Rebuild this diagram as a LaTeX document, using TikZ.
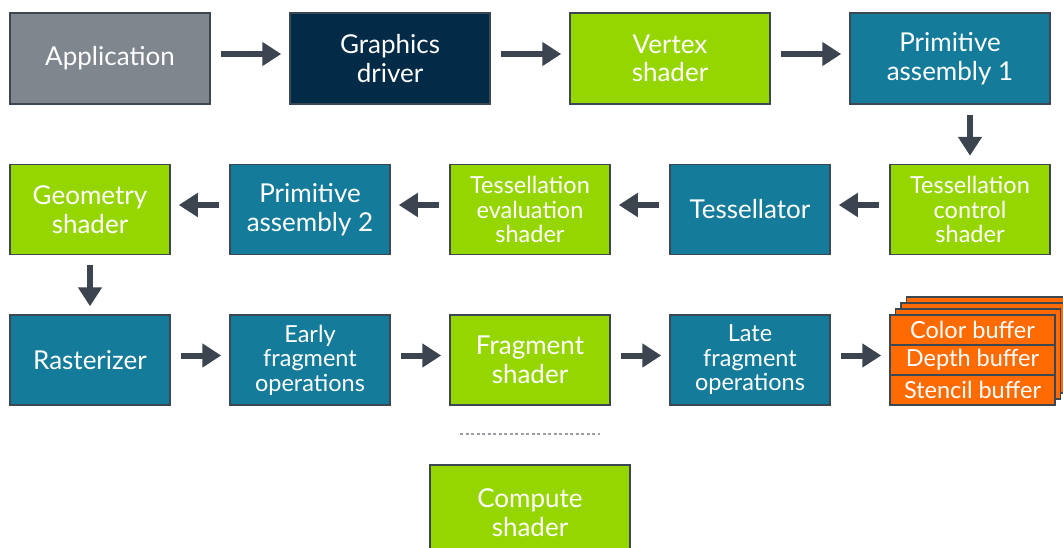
\documentclass[tikz,border=0pt]{standalone}
\usepackage{fontspec}
\setmainfont{Lato}
\usetikzlibrary{arrows.meta}
\definecolor{cgray}{HTML}{7F868E}
\definecolor{cnavy}{HTML}{022B47}
\definecolor{cgreen}{HTML}{95D600}
\definecolor{cteal}{HTML}{147B9A}
\definecolor{corange}{HTML}{FF6B00}
\definecolor{cborder}{HTML}{3D4752}
\definecolor{carrow}{HTML}{3B444F}
\definecolor{cdash}{HTML}{9A9FA5}
\tikzset{
  box/.style={draw=cborder, line width=1.5pt, text=white, align=center, inner sep=0pt,
    font=\fontsize{26}{28.5}\selectfont},
  wide/.style={box, minimum width=200pt, minimum height=91pt},
  narrow/.style={box, minimum width=160pt, minimum height=90pt},
  small/.style={font=\fontsize{23.5}{24.5}\selectfont},
  buf/.style={box, fill=corange, minimum width=165pt, minimum height=30pt, font=\fontsize{23.5}{24}\selectfont},
  arr/.style={draw=carrow, line width=6pt, -{Triangle[length=19pt,width=23pt]}, shorten <=10pt, shorten >=8pt},
  up/.style={yshift=4.5pt},
}
\begin{document}
\begin{tikzpicture}[x=1pt,y=-1pt]
\useasboundingbox (0,0) rectangle (1063,547);
\clip (0,0) rectangle (1063,547);
% row 1
\node[wide, fill=cgray] (app) at (110,58.5) {Application};
\node[wide, fill=cnavy] (drv) at (390,58.5) {Graphics\\driver};
\node[wide, fill=cgreen] (vs) at (670,58.5) {Vertex\\shader};
\node[wide, fill=cteal] (pa1) at (950,58.5) {Primitive\\assembly 1};
% row 2
\node[narrow, fill=cgreen, small] (tcs) at (970,209.5) {Tessellation\\control\\shader};
\node[narrow, fill=cteal] (tess) at (750,209.5) {Tessellator};
\node[narrow, fill=cgreen, small] (tes) at (530,209.5) {Tessellation\\evaluation\\shader};
\node[narrow, fill=cteal] (pa2) at (310,209.5) {Primitive\\assembly 2};
\node[narrow, fill=cgreen] (gs) at (90,209.5) {Geometry\\shader};
% row 3
\node[narrow, fill=cteal] (rast) at (90,360) {Rasterizer};
\node[narrow, fill=cteal, small] (efo) at (310,360) {Early\\fragment\\operations};
\node[narrow, fill=cgreen] (fs) at (530,360) {Fragment\\shader};
\node[narrow, fill=cteal, small] (lfo) at (750,360) {Late\\fragment\\operations};
% buffer stack back layers
\foreach \d in {3,2,1} {
  \draw[draw=cborder, line width=1.5pt, fill=corange] (890+5.5*\d,315-6*\d) rectangle (1055+5.5*\d,405-6*\d);
}
\node[buf] (cb) at (972.5,330) {Color buffer};
\node[buf] (db) at (972.5,360) {Depth buffer};
\node[buf] (sb) at (972.5,390) {Stencil buffer};
% compute
\draw[cdash, line width=2pt, dash pattern=on 3pt off 2.5pt] (460,434) -- (600,434);
\node[box, fill=cgreen, minimum width=200pt, minimum height=96pt, anchor=north] (cs) at (530,464) {Compute\\shader};
% arrows
\draw[arr] ([up]app.east) -- ([up]drv.west);
\draw[arr] ([up]drv.east) -- ([up]vs.west);
\draw[arr] ([up]vs.east) -- ([up]pa1.west);
\draw[arr] (pa1.south -| tcs.north) -- (tcs.north);
\draw[arr] ([up]tcs.west) -- ([up]tess.east);
\draw[arr] ([up]tess.west) -- ([up]tes.east);
\draw[arr] ([up]tes.west) -- ([up]pa2.east);
\draw[arr] ([up]pa2.west) -- ([up]gs.east);
\draw[arr] (gs.south) -- (rast.north);
\draw[arr] ([up]rast.east) -- ([up]efo.west);
\draw[arr] ([up]efo.east) -- ([up]fs.west);
\draw[arr] ([up]fs.east) -- ([up]lfo.west);
\draw[arr] ([up]lfo.east) -- ([up]db.west);
\end{tikzpicture}
\end{document}
